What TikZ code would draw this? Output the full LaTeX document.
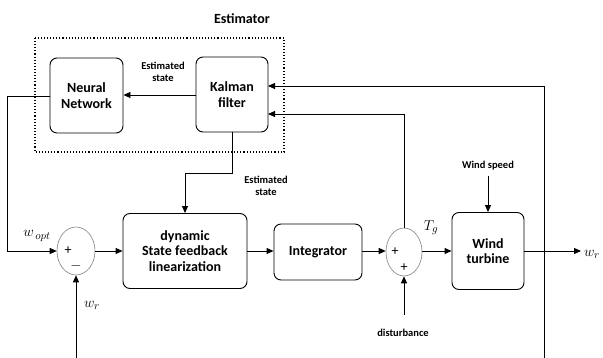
\documentclass[tikz,border=0pt]{standalone}
\usepackage{fontspec}
\setmainfont{Carlito}
\usetikzlibrary{arrows.meta,shapes.geometric}
\begin{document}
\begin{tikzpicture}[x=1pt,y=-1pt,
  blk/.style={draw,line width=0.9pt,rounded corners=7pt,align=center,font=\bfseries\fontsize{14}{15.5}\selectfont,inner sep=0pt},
  sumnode/.style={draw=gray,line width=0.6pt,ellipse,minimum height=48pt,inner sep=0pt},
  arr/.style={line width=0.9pt,-{Triangle[length=7pt,width=6pt]}},
  lbl/.style={font=\bfseries\fontsize{10.5}{12}\selectfont,align=center,inner sep=0pt},
  sgn/.style={font=\fontsize{14}{14}\selectfont,inner sep=0pt},
  mlbl/.style={font=\fontsize{15}{16}\selectfont,inner sep=0pt}]
\useasboundingbox (0,0) rectangle (603,358);
\draw[line width=1.1pt,dotted] (35,38) rectangle (284,152);
\node[font=\bfseries\fontsize{14}{15}\selectfont] (est) at (242,19) {Estimator};
\node[blk,minimum width=73pt,minimum height=75pt] (nn) at (86.5,95.5) {Neural\\Network};
\node[blk,minimum width=72pt,minimum height=75pt] (kf) at (232,94.5) {Kalman\\filter};
\node[blk,minimum width=124pt,minimum height=75pt] (dyn) at (185,251) {dynamic\\State feedback\\linearization};
\node[blk,minimum width=88pt,minimum height=56pt] (int) at (318,252) {Integrator};
\node[blk,minimum width=72pt,minimum height=77pt] (wt) at (488,251) {Wind\\turbine};
\node[sumnode,minimum width=38pt] (s1) at (76,251) {};
\node[sumnode,minimum width=36pt] (s2) at (404,252) {};
\node[sgn] (p1) at (68,251) {+};
\node[sgn] (m1) at (76,266) {$-$};
\node[sgn] (p2) at (395,252) {+};
\node[sgn] (p3) at (404,268) {+};
% labels
\node[lbl] (es1) at (163,72) {Estimated\\state};
\node[lbl] (es2) at (266,186) {Estimated\\state};
\node[lbl] (ws) at (488,166) {Wind speed};
\node[lbl] (dist) at (403,333) {disturbance};
\node[mlbl] (wopt) at (37,236) {$w_{\,opt}$};
\node[mlbl] (wr1) at (92,305) {$w_r$};
\node[mlbl] (tg) at (431,228) {$T_g$};
\node[mlbl] (wr2) at (592,254) {$w_r$};
% coordinates
\coordinate (nnl) at (50,96);
\coordinate (c1) at (7,96);
\coordinate (c2) at (7,251);
\coordinate (kfb) at (232,132);
\coordinate (k1) at (232,173);
\coordinate (k2) at (185,173);
\coordinate (kr1) at (268,86);
\coordinate (kr2) at (268,114);
\coordinate (r1) at (544,86);
\coordinate (r2) at (544,358);
\coordinate (t1) at (404,114);
\coordinate (wsb) at (488,176);
\coordinate (out) at (581,251);
\coordinate (db) at (404,315);
\coordinate (wb) at (76,358);
% connectors
\draw[arr] (kf.west |- 0,95) -- (nn.east |- 0,95);
\draw[arr] (nnl) -- (c1) -- (c2) -- (s1.west);
\draw[arr] (kfb) -- (k1) -- (k2) -- (dyn.north -| k2);
\draw[arr] (r2) -- (r1) -- (kr1);
\draw[arr] (s2.north) -- (t1) -- (kr2);
\draw[arr] (s1.east) -- (dyn.west |- s1.east);
\draw[arr] (dyn.east |- 0,251) -- (int.west |- 0,251);
\draw[arr] (int.east |- 0,251) -- (s2.west |- 0,251);
\draw[arr] (s2.east |- 0,251) -- (wt.west |- 0,251);
\draw[arr] (wt.east |- 0,251) -- (out);
\draw[arr] (wsb) -- (wt.north);
\draw[arr] (db) -- (s2.south);
\draw[arr] (wb) -- (s1.south);
\end{tikzpicture}
\end{document}
